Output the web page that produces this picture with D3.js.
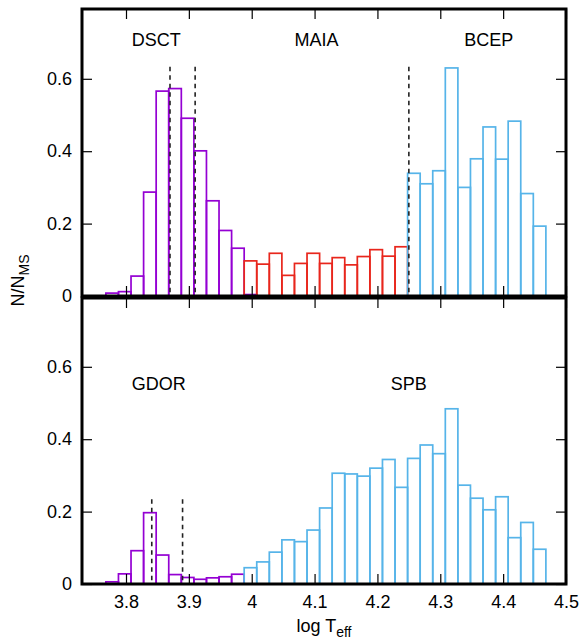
<!DOCTYPE html>
<html>
<head>
<meta charset="utf-8">
<script src="https://cdn.jsdelivr.net/npm/d3@7"></script>
<style>
  html, body { margin: 0; padding: 0; background: #fff; }
  svg text { font-family: "Liberation Sans", Arial, Helvetica, sans-serif; fill: #000; }
</style>
</head>
<body>
<script>
// ---------------- DATA ----------------
// bin centres (log Teff) and normalised counts N/N_MS
const topDsctX   = [3.778, 3.798, 3.818, 3.838, 3.858, 3.878, 3.898, 3.918, 3.938, 3.958, 3.978, 3.998];
const topDsctY   = [0.008, 0.012, 0.055, 0.287, 0.566, 0.573, 0.491, 0.401, 0.263, 0.181, 0.132, 0.004];

const topMaiaX   = [3.998, 4.018, 4.038, 4.058, 4.078, 4.098, 4.118, 4.138, 4.158, 4.178, 4.198, 4.218, 4.238];
const topMaiaY   = [0.097, 0.088, 0.118, 0.057, 0.090, 0.118, 0.090, 0.106, 0.086, 0.109, 0.128, 0.110, 0.136];

const topBcepX   = [4.258, 4.278, 4.298, 4.318, 4.338, 4.358, 4.378, 4.398, 4.418, 4.438, 4.458];
const topBcepY   = [0.339, 0.310, 0.346, 0.630, 0.300, 0.379, 0.467, 0.378, 0.483, 0.283, 0.193];

const botGdorX   = [3.778, 3.798, 3.818, 3.838, 3.858, 3.878, 3.898, 3.918, 3.938, 3.958, 3.978];
const botGdorY   = [0.006, 0.028, 0.092, 0.197, 0.080, 0.026, 0.018, 0.013, 0.017, 0.020, 0.027];

const botSpbX    = [3.998, 4.018, 4.038, 4.058, 4.078, 4.098, 4.118, 4.138, 4.158, 4.178, 4.198, 4.218,
                    4.238, 4.258, 4.278, 4.298, 4.318, 4.338, 4.358, 4.378, 4.398, 4.418, 4.438, 4.458];
const botSpbY    = [0.045, 0.061, 0.088, 0.122, 0.117, 0.149, 0.210, 0.306, 0.304, 0.298, 0.320, 0.344,
                    0.267, 0.347, 0.384, 0.360, 0.484, 0.273, 0.237, 0.205, 0.241, 0.128, 0.170, 0.096];

const binWidth   = 0.02;

// dashed boundary lines: x (log Teff) and upper end (N/N_MS)
const topDashX   = [3.870, 3.910, 4.250];
const topDashTop = 0.633;
const botDashX   = [3.841, 3.890];
const botDashTop = 0.234;

// class labels (x in log Teff, level in N/N_MS)
const topLabels     = ["DSCT", "MAIA", "BCEP"];
const topLabelX     = [3.848, 4.103, 4.377];
const topLabelLevel = 0.709;
const botLabels     = ["GDOR", "SPB"];
const botLabelX     = [3.852, 4.250];
const botLabelLevel = 0.554;

// ticks
const xTicks      = [3.8, 3.9, 4.0, 4.1, 4.2, 4.3, 4.4, 4.5];
const xTickLabels = ["3.8", "3.9", "4", "4.1", "4.2", "4.3", "4.4", "4.5"];
const yTicks      = [0, 0.2, 0.4, 0.6];
const yTickLabels = ["0", "0.2", "0.4", "0.6"];

// ---------------- CHART ----------------
const W = 582, H = 642;
const L = 82, R = 566, T = 9, MID1 = 296, MID2 = 298, B = 584;
const purple = "#9400d3", red = "#e8261c", blue = "#56b4e9";

const svg = d3.select("body").append("svg").attr("width", W).attr("height", H);

const x = d3.scaleLinear().domain([3.73, 4.5]).range([L, R]);
const yTop = d3.scaleLinear().domain([0, (MID1 - T) / 362]).range([MID1, T]);
const yBot = d3.scaleLinear().domain([0, (B - MID2) / 362]).range([B, MID2]);

function bars(g, xs, ys, y, color) {
  const data = xs.map((c, i) => ({ c, v: ys[i] }));
  g.append("g").selectAll("rect").data(data).join("rect")
    .attr("x", d => x(d.c - binWidth / 2))
    .attr("width", d => x(d.c + binWidth / 2) - x(d.c - binWidth / 2))
    .attr("y", d => y(d.v))
    .attr("height", d => y(0) - y(d.v))
    .attr("fill", "none")
    .attr("stroke", color)
    .attr("stroke-width", 1.7);
}

function dashes(g, xs, top, y) {
  g.append("g").selectAll("line").data(xs).join("line")
    .attr("x1", d => x(d)).attr("x2", d => x(d))
    .attr("y1", y(top)).attr("y2", y(0))
    .attr("stroke", "#222").attr("stroke-width", 1.6)
    .attr("stroke-dasharray", "4.5,4");
}

function tickAxes(y, y0, y1, withXLabels) {
  const fmtY = d => yTickLabels[yTicks.indexOf(d)];
  const fmtX = d => xTickLabels[xTicks.indexOf(d)];
  const clean = g => { g.select(".domain").remove(); g.selectAll("line").attr("stroke", "#000").attr("stroke-width", 1.2); };

  svg.append("g").attr("transform", `translate(${L},0)`)
    .call(d3.axisLeft(y).tickValues(yTicks).tickSize(-10).tickPadding(10).tickFormat(fmtY))
    .call(clean)
    .call(g => g.selectAll("text").style("font-size", "18px").style("font-family", "Liberation Sans, Arial, sans-serif"));
  svg.append("g").attr("transform", `translate(${R},0)`)
    .call(d3.axisRight(y).tickValues(yTicks).tickSize(-10).tickFormat(""))
    .call(clean);
  svg.append("g").attr("transform", `translate(0,${y1})`)
    .call(d3.axisTop(x).tickValues(xTicks).tickSize(-10).tickFormat(""))
    .call(clean);
  svg.append("g").attr("transform", `translate(0,${y0})`)
    .call(d3.axisBottom(x).tickValues(xTicks).tickSize(-10).tickPadding(11)
      .tickFormat(withXLabels ? fmtX : ""))
    .call(clean)
    .call(g => g.selectAll("text").style("font-size", "18px").style("font-family", "Liberation Sans, Arial, sans-serif"));
}

// top panel
const gTop = svg.append("g");
bars(gTop, topDsctX, topDsctY, yTop, purple);
bars(gTop, topMaiaX, topMaiaY, yTop, red);
bars(gTop, topBcepX, topBcepY, yTop, blue);
dashes(gTop, topDashX, topDashTop, yTop);

// bottom panel
const gBot = svg.append("g");
bars(gBot, botGdorX, botGdorY, yBot, purple);
bars(gBot, botSpbX, botSpbY, yBot, blue);
dashes(gBot, botDashX, botDashTop, yBot);

tickAxes(yTop, MID1, T, false);
tickAxes(yBot, B, MID2, true);

// frames
svg.append("rect").attr("x", L).attr("y", T).attr("width", R - L).attr("height", MID1 - T)
  .attr("fill", "none").attr("stroke", "#000").attr("stroke-width", 3);
svg.append("rect").attr("x", L).attr("y", MID2).attr("width", R - L).attr("height", B - MID2)
  .attr("fill", "none").attr("stroke", "#000").attr("stroke-width", 3);

// class labels
svg.append("g").selectAll("text").data(topLabels).join("text")
  .attr("x", (d, i) => x(topLabelX[i])).attr("y", yTop(topLabelLevel) + 6.5)
  .attr("text-anchor", "middle").style("font-size", "18px").text(d => d);
svg.append("g").selectAll("text").data(botLabels).join("text")
  .attr("x", (d, i) => x(botLabelX[i])).attr("y", yBot(botLabelLevel) + 6.5)
  .attr("text-anchor", "middle").style("font-size", "18px").text(d => d);

// axis titles
const xt = svg.append("text").attr("x", (L + R) / 2).attr("y", 632)
  .attr("text-anchor", "middle").style("font-size", "18px");
xt.append("tspan").text("log T");
xt.append("tspan").attr("dy", 5).style("font-size", "14px").text("eff");

const yt = svg.append("text").attr("transform", `translate(24,${(T + B) / 2 - 16}) rotate(-90)`)
  .attr("text-anchor", "middle").style("font-size", "18px");
yt.append("tspan").text("N/N");
yt.append("tspan").attr("dy", 5).style("font-size", "14px").text("MS");
</script>
</body>
</html>
